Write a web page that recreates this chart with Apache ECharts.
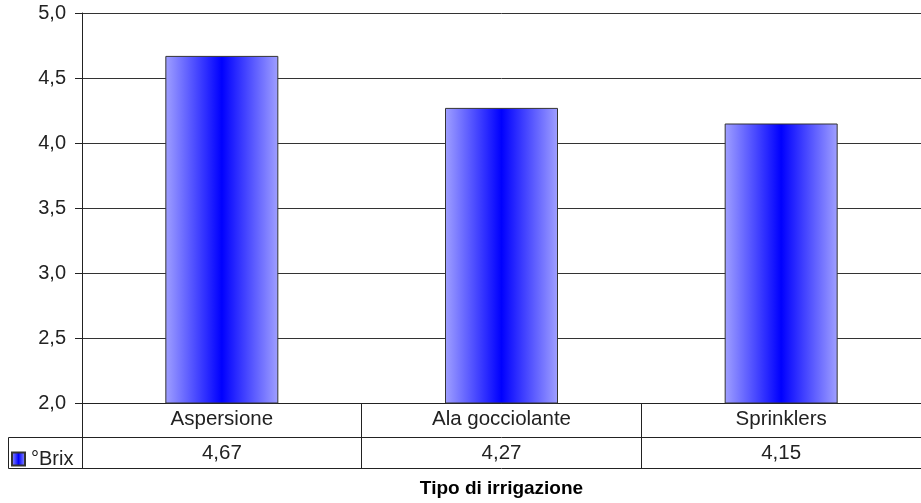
<!DOCTYPE html>
<html>
<head>
<meta charset="utf-8">
<script src="https://cdn.jsdelivr.net/npm/echarts@6/dist/echarts.min.js"></script>
<style>
html,body{margin:0;padding:0;background:#fff;}
#c{width:921px;height:503px;}
</style>
</head>
<body>
<div id="c"></div>
<script>
var categories = ['Aspersione', 'Ala gocciolante', 'Sprinklers'];
var brix = [4.67, 4.27, 4.15];
var seriesName = '°Brix';
var yTicks = { min: 2, max: 5, interval: 0.5 };
var xTitle = 'Tipo di irrigazione';

function fmt(v, d) { return v.toFixed(d).replace('.', ','); }

var FONT = 'Liberation Sans, Arial, sans-serif';
var grad = {
  type: 'linear', x: 0, y: 0, x2: 1, y2: 0,
  colorStops: [
    { offset: 0, color: '#a0a0ff' },
    { offset: 0.5, color: '#0000ff' },
    { offset: 1, color: '#a0a0ff' }
  ]
};

var chart = echarts.init(document.getElementById('c'), null, { renderer: 'canvas' });
chart.setOption({
  animation: false,
  backgroundColor: '#fff',
  grid: { left: 82, right: -6, top: 13, bottom: 100 },
  legend: {
    left: 11, top: 449, padding: 0,
    itemWidth: 13, itemHeight: 13, itemGap: 5,
    icon: 'rect',
    textStyle: { fontSize: 20, color: '#222', fontFamily: FONT, padding: [0, 0, 0, 1] },
    data: [seriesName]
  },
  xAxis: [
    {
      type: 'category', data: categories, position: 'bottom',
      axisLine: { show: true, lineStyle: { color: '#222', width: 1 } },
      axisTick: { show: true, length: 65, interval: 0, lineStyle: { color: '#222', width: 1 } },
      axisLabel: { margin: 6, fontSize: 20.5, color: '#222', fontFamily: FONT, interval: 0 },
      splitLine: { show: false }
    },
    {
      type: 'category', data: categories, position: 'bottom', offset: 34,
      axisLine: { show: true, lineStyle: { color: '#222', width: 1 } },
      axisTick: { show: false },
      axisLabel: { margin: 6, fontSize: 20.5, color: '#222', fontFamily: FONT, interval: 0,
        formatter: function (v, i) { return fmt(brix[i], 2); } }
    },
    {
      type: 'category', data: categories, position: 'bottom', offset: 65,
      axisLine: { show: true, lineStyle: { color: '#222', width: 1 } },
      axisTick: { show: false },
      axisLabel: { show: false },
      name: xTitle, nameLocation: 'middle', nameGap: 11,
      nameTextStyle: { fontSize: 19, fontWeight: 'bold', color: '#000', fontFamily: FONT, verticalAlign: 'top' }
    }
  ],
  yAxis: {
    type: 'value', min: yTicks.min, max: yTicks.max, interval: yTicks.interval,
    axisLine: { show: true, lineStyle: { color: '#222', width: 1 } },
    axisTick: { show: true, length: 7, lineStyle: { color: '#222' } },
    axisLabel: { margin: 16, fontSize: 20, color: '#222', fontFamily: FONT,
      formatter: function (v) { return fmt(v, 1); } },
    splitLine: { show: true, lineStyle: { color: '#333', width: 1 } }
  },
  series: [{
    name: seriesName, type: 'bar', data: brix, barWidth: 113,
    itemStyle: { color: grad, borderColor: '#333', borderWidth: 1 }
  }],
  graphic: [{
    type: 'polyline',
    shape: { points: [[82, 437.5], [8.5, 437.5], [8.5, 468.5], [82, 468.5]] },
    style: { stroke: '#222', lineWidth: 1, fill: null }
  }]
});
</script>
</body>
</html>
